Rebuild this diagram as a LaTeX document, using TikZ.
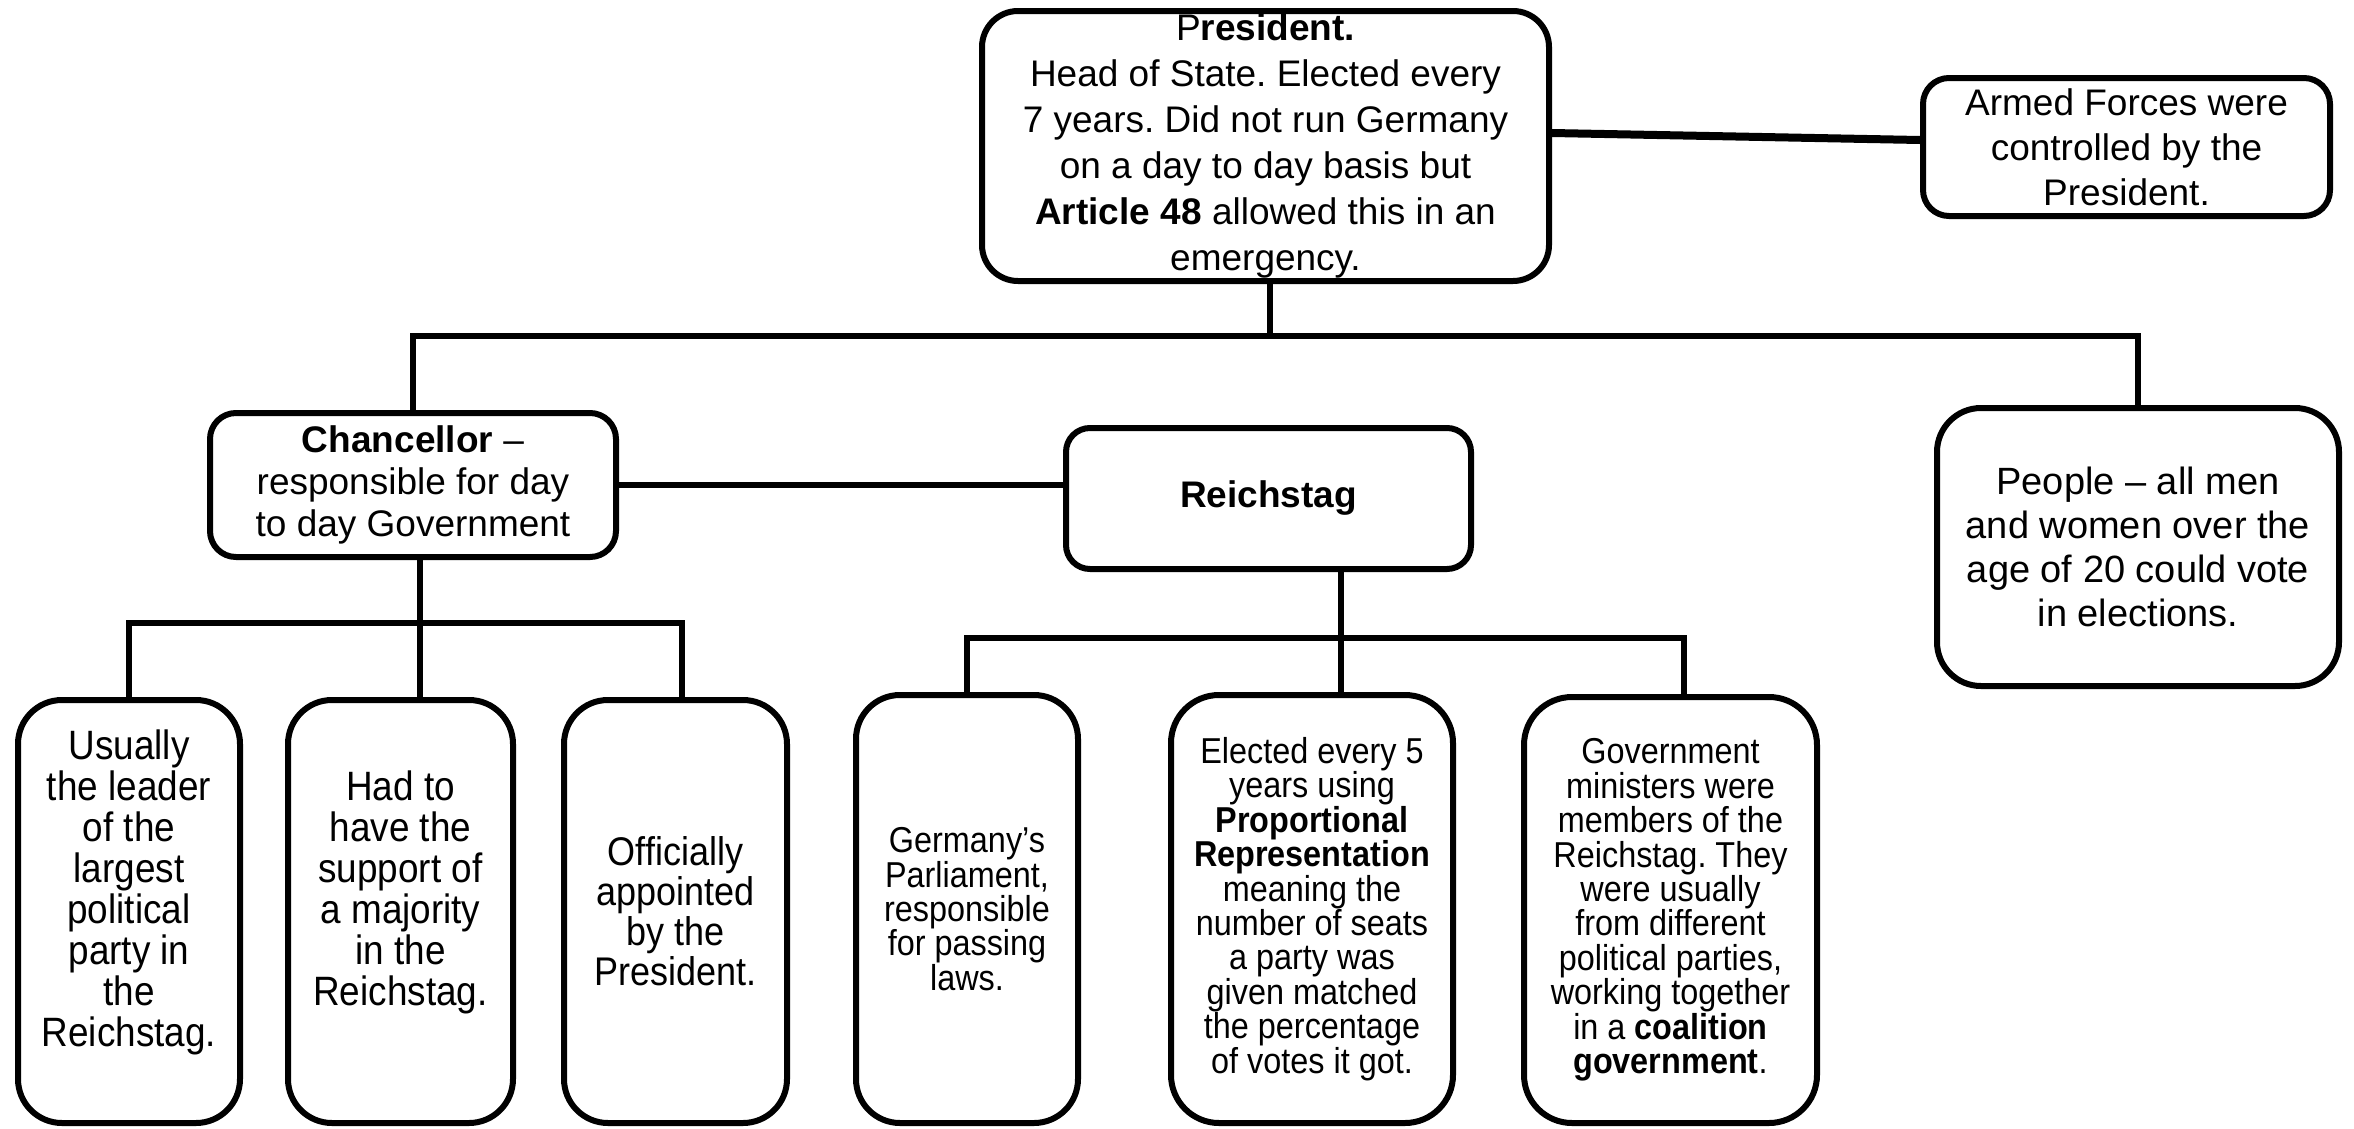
\documentclass[tikz,border=0pt]{standalone}
\usepackage{fontspec}
\setmainfont{Liberation Sans}
\newfontfamily\narrowfont[FakeStretch=0.9]{Liberation Sans}
\frenchspacing
\begin{document}
\begin{tikzpicture}[x=1pt,y=-1pt,
  box/.style={draw=black, line width=6pt, fill=white, rounded corners=#1,
    inner sep=0pt, align=center},
  box/.default=28pt,
  toptext/.style={font=\fontsize{37}{46}\selectfont},
  ctext/.style={font=\narrowfont\fontsize{41}{41}\selectfont},
  rtext/.style={font=\narrowfont\fontsize{36}{34.4}\selectfont},
  link/.style={line width=6pt, line join=miter},
  thicklink/.style={line width=8pt}]

\fill[white] (0,0) rectangle (2354,1128);
\useasboundingbox (0,0) rectangle (2354,1128);

% Top level
\node[box=36pt, toptext, minimum width=567pt, minimum height=270pt] (pres) at (1265.5,146)
  {P\textbf{resident.}\\Head of State. Elected every\\7 years. Did not run Germany\\on a day to day basis but\\\textbf{Article 48} allowed this in an\\emergency.};
\node[box=26pt, toptext, font=\fontsize{37}{45}\selectfont, minimum width=407pt, minimum height=138pt] (armed) at (2126.5,147)
  {Armed Forces were\\controlled by the\\President.};

% Second level
\node[box=26pt, font=\fontsize{37}{42}\selectfont, minimum width=406pt, minimum height=144pt] (chanc) at (413,485)
  {\textbf{Chancellor} –\\responsible for day\\to day Government};
\node[box=24pt, font=\fontsize{37}{42}\selectfont, minimum width=405pt, minimum height=141pt] (reich) at (1268.5,498.5)
  {\textbf{Reichstag}};
\node[box=44pt, font=\fontsize{38}{44}\selectfont, minimum width=402pt, minimum height=278pt] (people) at (2138,547)
  {People – all men\\and women over the\\age of 20 could vote\\in elections.};

% Chancellor details
\node[box=44pt, ctext, text depth=46pt, minimum width=222pt, minimum height=423pt] (c1) at (129,911.5)
  {Usually\\the leader\\of the\\largest\\political\\party in\\the\\Reichstag.};
\node[box=44pt, ctext, text depth=46pt, minimum width=225pt, minimum height=423pt] (c2) at (400.5,911.5)
  {Had to\\have the\\support of\\a majority\\in the\\Reichstag.};
\node[box=44pt, ctext, font=\narrowfont\fontsize{40}{40}\selectfont, minimum width=223pt, minimum height=423pt] (c3) at (675.5,911.5)
  {Officially\\appointed\\by the\\President.};

% Reichstag details
\node[box=44pt, rtext, minimum width=222pt, minimum height=428pt] (r1) at (967,909)
  {Germany’s\\Parliament,\\responsible\\for passing\\laws.};
\node[box=48pt, rtext, minimum width=282pt, minimum height=428pt] (r2) at (1312,909)
  {Elected every 5\\years using\\\textbf{Proportional}\\\textbf{Representation}\\meaning the\\number of seats\\a party was\\given matched\\the percentage\\of votes it got.};
\node[box=48pt, rtext, minimum width=293pt, minimum height=426pt] (r3) at (1670.5,910)
  {Government\\ministers were\\members of the\\Reichstag. They\\were usually\\from different\\political parties,\\working together\\in a \textbf{coalition}\\\textbf{government}.};

% Junction points of the tree
\coordinate (pbar) at (1270,336);
\coordinate (cbar) at (420,623);
\coordinate (c3drop) at (682,623);
\coordinate (rbar) at (1341,638);
\coordinate (r3drop) at (1684,638);

% Connectors
\draw[thicklink] ([yshift=13pt]pres.east) -- ([yshift=7pt]armed.west);
\draw[link] (pres.south -| pbar) -- (pbar);
\draw[link] (chanc.north) |- (people.north |- pbar) -- (people.north);
\draw[link] (chanc.east) -- (chanc.east -| reich.west);

\draw[link] (chanc.south -| cbar) -- (cbar);
\draw[link] (c1.north) |- (c3drop) -- (c3drop |- c3.north);
\draw[link] (cbar) -- (cbar |- c2.north);

\draw[link] (reich.south -| rbar) -- (rbar);
\draw[link] (r1.north) |- (r3drop) -- (r3drop |- r3.north);
\draw[link] (rbar) -- (rbar |- r2.north);
\end{tikzpicture}
\end{document}
